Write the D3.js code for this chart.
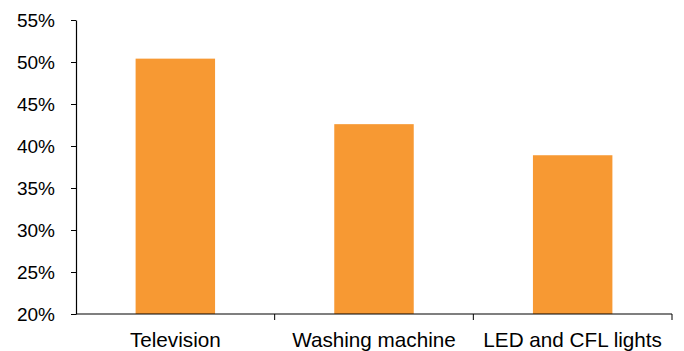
<!DOCTYPE html>
<html>
<head>
<meta charset="utf-8">
<script src="https://cdn.jsdelivr.net/npm/d3@7"></script>
<style>
  html, body { margin: 0; padding: 0; background: #fff; }
  svg { display: block; font-family: "Liberation Sans", Arial, sans-serif; }
</style>
</head>
<body>
<svg id="chart" width="684" height="351"></svg>
<script>
// Share of households by appliance
const categories = ["Television", "Washing machine", "LED and CFL lights"];
const shares = [50.4, 42.6, 38.9];
const yTicks = [20, 25, 30, 35, 40, 45, 50, 55];

const svg = d3.select("#chart");
const plot = { left: 76, right: 672, top: 20, bottom: 314 };

const x = d3.scaleBand()
  .domain(categories)
  .range([plot.left, plot.right])
  .paddingInner(0.6)
  .paddingOuter(0.3);

const y = d3.scaleLinear()
  .domain([20, 55])
  .range([plot.bottom, plot.top]);

// Bars
svg.append("g")
  .selectAll("rect")
  .data(categories)
  .join("rect")
  .attr("x", d => x(d))
  .attr("width", x.bandwidth())
  .attr("y", (d, i) => y(shares[i]))
  .attr("height", (d, i) => y(20) - y(shares[i]))
  .attr("fill", "#F79933");

// Y axis
const yAxis = svg.append("g")
  .attr("transform", `translate(${plot.left},0)`)
  .call(d3.axisLeft(y).tickValues(yTicks).tickFormat(d => d + "%").tickSize(5).tickSizeOuter(0));
yAxis.select(".domain").attr("stroke", "#000").attr("stroke-width", 1.2);
yAxis.selectAll(".tick line").attr("stroke", "#000");
yAxis.selectAll(".tick text")
  .attr("x", -21)
  .attr("font-size", 19)
  .attr("font-family", "Liberation Sans, Arial, sans-serif")
  .attr("fill", "#000");

// X axis with ticks at category boundaries
const xAxisG = svg.append("g").attr("transform", `translate(0,${plot.bottom})`);
xAxisG.append("line")
  .attr("x1", plot.left).attr("x2", plot.right)
  .attr("stroke", "#000").attr("stroke-width", 1.2);
const step = x.step();
const boundaries = categories.map(c => x(c) + x.bandwidth() / 2 + step / 2);
xAxisG.selectAll("line.tick")
  .data(boundaries)
  .join("line")
  .attr("class", "tick")
  .attr("x1", d => d).attr("x2", d => d)
  .attr("y1", 0).attr("y2", 6)
  .attr("stroke", "#000");
xAxisG.selectAll("text")
  .data(categories)
  .join("text")
  .attr("x", d => x(d) + x.bandwidth() / 2)
  .attr("y", 32.5)
  .attr("text-anchor", "middle")
  .attr("font-size", 20.7)
  .attr("fill", "#000")
  .text(d => d);
</script>
</body>
</html>
